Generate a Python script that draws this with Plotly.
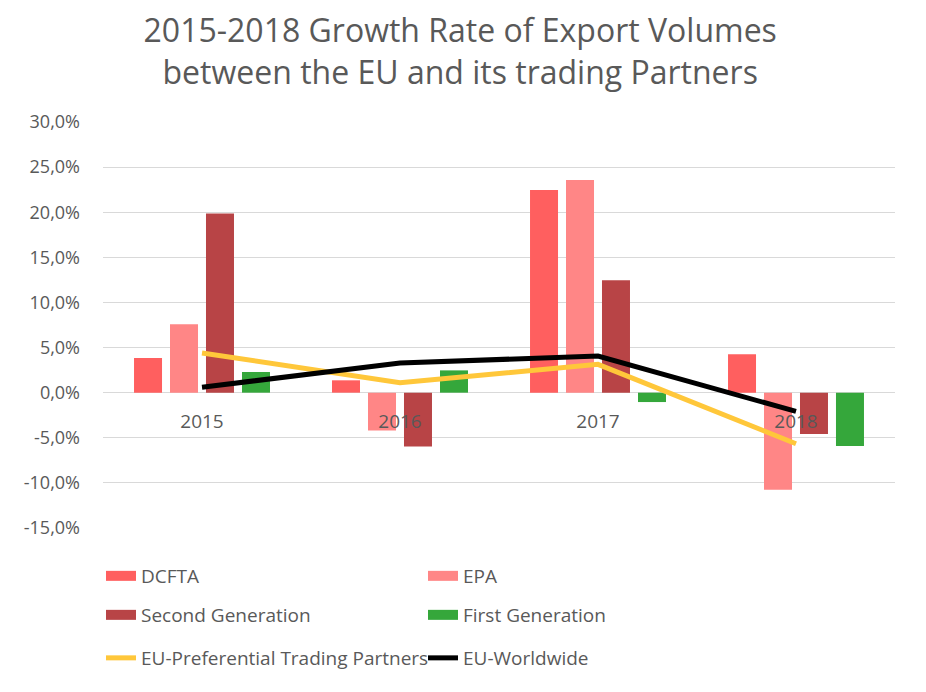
import plotly.graph_objects as go

years = ["2015", "2016", "2017", "2018"]
dcfta = [3.84, 1.37, 22.45, 4.25]
epa = [7.58, -4.18, 23.56, -10.77]
second_gen = [19.87, -5.96, 12.46, -4.59]
first_gen = [2.29, 2.47, -1.04, -5.92]
eu_pref = [4.4, 1.1, 3.14, -5.66]
eu_world = [0.6, 3.29, 4.06, -2.08]
y_ticks = [30, 25, 20, 15, 10, 5, 0, -5, -10, -15]
y_tick_labels = ["30,0%", "25,0%", "20,0%", "15,0%", "10,0%", "5,0%",
                 "0,0%", "-5,0%", "-10,0%", "-15,0%"]

FONT = "Open Sans"
GREY = "#595959"

fig = go.Figure()
bars = [("DCFTA", dcfta, "#FF5F5F", "legend"),
        ("EPA", epa, "#FF8686", "legend"),
        ("Second Generation", second_gen, "#B84446", "legend2"),
        ("First Generation", first_gen, "#35A73B", "legend2")]
for name, vals, col, lg in bars:
    fig.add_trace(go.Bar(x=years, y=vals, name=name, marker_color=col,
                         marker_line_width=0, showlegend=False))
# legend keys drawn as wide rectangles (thick line swatches)
for name, vals, col, lg in bars:
    fig.add_trace(go.Scatter(x=years, y=[None] * len(years), name=name, mode="lines",
                             line=dict(color=col, width=12), legend=lg,
                             hoverinfo="skip"))
fig.add_trace(go.Scatter(x=years, y=eu_pref, name="EU-Preferential Trading Partners",
                         mode="lines", line=dict(color="#FFC73A", width=5), legend="legend3"))
fig.add_trace(go.Scatter(x=years, y=eu_world, name="EU-Worldwide",
                         mode="lines", line=dict(color="#000000", width=5), legend="legend3"))

W, H = 926, 692
L, R, T, B = 103, 31, 122, 164
ph = H - T - B


def ypaper(py):
    return (H - B - py) / ph


leg_common = dict(orientation="h", xanchor="left", yanchor="middle",
                  x=(101 - L) / (W - L - R), entrywidth=277,
                  font=dict(family=FONT, size=19, color=GREY),
                  bgcolor="rgba(0,0,0,0)", traceorder="normal")

fig.update_layout(
    width=W, height=H,
    margin=dict(l=L, r=R, t=T, b=B),
    paper_bgcolor="white", plot_bgcolor="white",
    font=dict(family=FONT, color=GREY),
    title=dict(text="2015-2018 Growth Rate of Export Volumes<br>between the EU and its trading Partners",
               x=0.497, xanchor="center", y=1 - 42 / H, yanchor="middle",
               font=dict(family=FONT, size=32, color=GREY)),
    barmode="group", bargap=0.273, bargroupgap=0.222,
    showlegend=True,
    legend=dict(**leg_common, y=ypaper(576)),
    legend2=dict(**leg_common, y=ypaper(615)),
    legend3=dict(**leg_common, y=ypaper(658)),
    xaxis=dict(type="category", anchor="free", position=15 / 45,
               showline=False, showgrid=False, zeroline=False, ticks="",
               ticklabelstandoff=15,
               tickfont=dict(family=FONT, size=19, color=GREY)),
    yaxis=dict(range=[-15, 30], tickvals=y_ticks, ticktext=y_tick_labels,
               showgrid=True, gridcolor="#D9D9D9", gridwidth=1,
               zeroline=True, zerolinecolor="#D9D9D9", zerolinewidth=1,
               showline=False, ticks="", ticklabelstandoff=22,
               tickfont=dict(family=FONT, size=18, color=GREY)),
)

fig.write_html("out.html")
